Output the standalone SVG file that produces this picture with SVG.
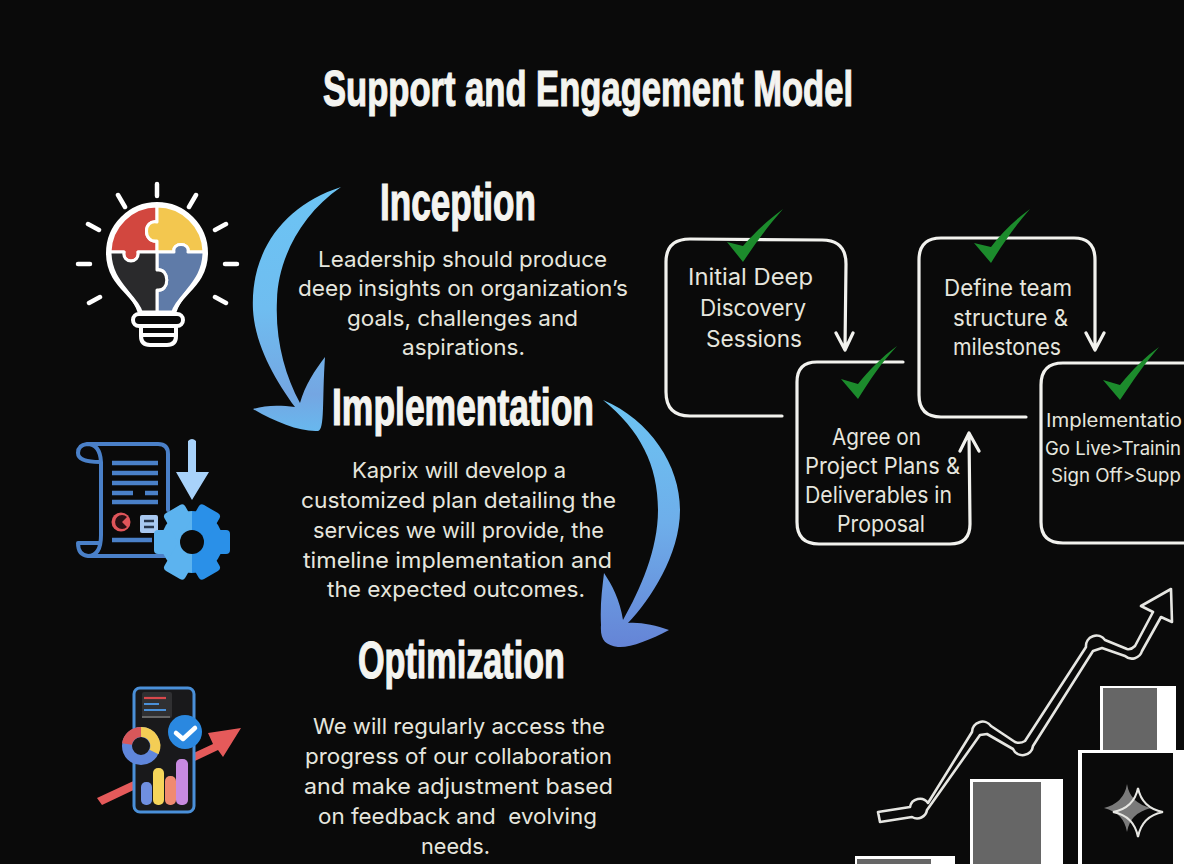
<svg xmlns="http://www.w3.org/2000/svg" width="1184" height="864" viewBox="0 0 1184 864">
<style>
.h{font-family:"Liberation Sans",Arial,sans-serif;font-weight:700;fill:#f4f4f0;stroke:#f4f4f0;stroke-width:1.2;text-anchor:start}
.b{font-family:"Inter","Noto Sans",sans-serif;font-size:22px;fill:#e6e6de;text-anchor:start}
.s{font-family:"Inter","Noto Sans",sans-serif;font-size:22.5px;fill:#e6e6de;text-anchor:start}
.i{font-family:"Inter","Noto Sans",sans-serif;font-size:18.6px;fill:#e6e6de;text-anchor:start}
.box{fill:none;stroke:#f2f2ee;stroke-width:3.2;stroke-linecap:round;stroke-linejoin:round}
.ck{fill:#1c8b2c}
.ray{fill:none;stroke:#fff;stroke-width:4.5;stroke-linecap:round}
.bl{fill:none;stroke:#fff;stroke-width:4;stroke-linejoin:round;stroke-linecap:round}
.pz{stroke:#fff;stroke-width:3;stroke-linejoin:round}
.doc{fill:none;stroke:#4a80c8;stroke-width:4;stroke-linecap:round;stroke-linejoin:round}
.dl{fill:none;stroke:#4a80c8;stroke-width:4.5}
.chart{fill:#0a0a0a;stroke:#e6e6e2;stroke-width:2.6;stroke-linejoin:round}
</style>
<defs>
<linearGradient id="g1" x1="0" y1="0" x2="0" y2="1"><stop offset="0" stop-color="#6cc4f4"/><stop offset=".5" stop-color="#6fbdf0"/><stop offset=".85" stop-color="#74a6e2"/><stop offset="1" stop-color="#68b8ee"/></linearGradient>
<linearGradient id="g2" x1="0" y1="0" x2="0" y2="1"><stop offset="0" stop-color="#6cc4f2"/><stop offset=".5" stop-color="#6eaeea"/><stop offset="1" stop-color="#6584d6"/></linearGradient>
<clipPath id="gl"><rect x="150" y="500" width="42" height="90"/></clipPath>
<clipPath id="gr"><rect x="192" y="500" width="42" height="90"/></clipPath>
<g id="gear"><circle cx="192" cy="542" r="31"/><rect x="154" y="530" width="76" height="24" rx="4"/><rect x="154" y="530" width="76" height="24" rx="4" transform="rotate(60 192 542)"/><rect x="154" y="530" width="76" height="24" rx="4" transform="rotate(120 192 542)"/></g>
</defs>
<rect width="1184" height="864" fill="#0a0a0a"/>

<text class="h" x="323" y="106" font-size="50" textLength="530" lengthAdjust="spacingAndGlyphs">Support and Engagement Model</text>

<g id="node-inception">
<text class="h" x="380" y="220" font-size="51" textLength="156" lengthAdjust="spacingAndGlyphs">Inception</text>
<text class="b" x="318" y="267" textLength="289" lengthAdjust="spacingAndGlyphs">Leadership should produce</text>
<text class="b" x="298" y="296" textLength="330" lengthAdjust="spacingAndGlyphs">deep insights on organization’s</text>
<text class="b" x="347" y="326" textLength="231" lengthAdjust="spacingAndGlyphs">goals, challenges and</text>
<text class="b" x="402" y="355" textLength="123" lengthAdjust="spacingAndGlyphs">aspirations.</text>
</g>
<g id="node-implementation">
<text class="h" x="332" y="425" font-size="51" textLength="262" lengthAdjust="spacingAndGlyphs">Implementation</text>
<text class="b" x="352" y="478" textLength="214" lengthAdjust="spacingAndGlyphs">Kaprix will develop a</text>
<text class="b" x="301" y="508" textLength="315" lengthAdjust="spacingAndGlyphs">customized plan detailing the</text>
<text class="b" x="313" y="538" textLength="291" lengthAdjust="spacingAndGlyphs">services we will provide, the</text>
<text class="b" x="303" y="568" textLength="309" lengthAdjust="spacingAndGlyphs">timeline implementation and</text>
<text class="b" x="327" y="597" textLength="258" lengthAdjust="spacingAndGlyphs">the expected outcomes.</text>
</g>
<g id="node-optimization">
<text class="h" x="358" y="678" font-size="51" textLength="207" lengthAdjust="spacingAndGlyphs">Optimization</text>
<text class="b" x="313" y="734" textLength="292" lengthAdjust="spacingAndGlyphs">We will regularly access the</text>
<text class="b" x="305" y="764" textLength="307" lengthAdjust="spacingAndGlyphs">progress of our collaboration</text>
<text class="b" x="304" y="794" textLength="309" lengthAdjust="spacingAndGlyphs">and make adjustment based</text>
<text class="b" x="318" y="824" textLength="279" lengthAdjust="spacingAndGlyphs" xml:space="preserve">on feedback and  evolving</text>
<text class="b" x="421" y="854" textLength="69" lengthAdjust="spacingAndGlyphs">needs.</text>
</g>

<g id="connectors">
<path fill="url(#g1)" d="M341 187C285 205 250 250 253 310C255 345 275 380 295 407C280 405 265 405 253 409C275 422 300 432 318 431C325 430 322 400 325 357C315 370 305 385 300 403C285 375 275 340 277 300C278 260 300 215 341 187Z"/>
<path fill="url(#g2)" d="M603 400C650 420 680 465 680 510C680 555 650 600 628 623C640 622 655 625 669 630C650 640 630 648 618 647C605 645 600 640 601 625C600 605 602 590 604 573C612 585 620 600 623 620C640 590 658 550 658 510C658 465 640 430 603 400Z"/>
</g>

<g id="icon-bulb">
<path class="ray" d="M157 184V196M118 195L125 207M196 195L189 207M88 224L99 230M226 224L215 230M78 264H90M225 264H237M89 303L100 297M226 303L215 297"/>
<path class="pz" fill="#d2473f" d="M157 206A47 47 0 0 0 110 252H124C122 264 140 264 138 252H157V241C143 243 143 219 157 222Z"/>
<path class="pz" fill="#f3c74f" d="M157 206A47 47 0 0 1 204 252H188C190 242 172 242 174 252H157V241C143 243 143 219 157 222Z"/>
<path class="pz" fill="#5f7ba8" d="M204 252C204 282 180 292 175 312H157V290C170 292 170 268 157 270V252H174C172 242 190 242 188 252Z"/>
<path class="pz" fill="#2a2a2c" d="M110 252C110 282 134 292 139 312H157V290C170 292 170 268 157 270V252H138C140 264 122 264 124 252Z"/>
<path class="bl" d="M141 313C135 293 108 285 108 253A49 49 0 0 1 206 253C206 285 179 293 173 313"/>
<rect class="bl" x="133" y="314" width="50" height="12" rx="6" fill="#0a0a0a"/>
<path class="bl" d="M141 326V336Q141 345 150 345H167Q176 345 176 336V326M142 335H175"/>
</g>

<g id="icon-doc">
<path class="doc" d="M87 444H158Q168 444 168 454V510M87 444Q78 445 78 453Q78 462 100 462M87 444Q100 444 101 462V535Q101 556 88 556Q78 555 78 543M88 556H165M78 543H99"/>
<path class="dl" d="M112 463H158M112 473H158M112 483H158M112 493H133M145 493H158M112 502H158M112 540H152"/>
<circle cx="121" cy="522" r="9.500" fill="#e0555a"/>
<path d="M127 517A7 7 0 1 0 127 527L122 522Z" fill="#2a1014"/>
<rect x="140" y="515" width="18" height="18" rx="2" fill="#a8c8f0"/>
<path d="M144 521H154M144 527H154" stroke="#26344a" stroke-width="2.500"/>
<path fill="#a8d2fa" d="M188 441Q192 437 196 441V472H209L192 500L176 472H188Z"/>
<use href="#gear" fill="#5cb3ef" clip-path="url(#gl)"/>
<use href="#gear" fill="#2a90e8" clip-path="url(#gr)"/>
<circle cx="192" cy="542" r="12" fill="#0a0a0a"/>
</g>

<g id="icon-phone">
<polygon fill="#e55a5a" points="97,798 213,744 208,733 241,728 223,757 218,750 102,805"/>
<rect x="134" y="688" width="60" height="124" rx="6" fill="#19191b" stroke="#4a90d9" stroke-width="3"/>
<rect x="142" y="692" width="30" height="26" rx="2" fill="#303032"/>
<path fill="none" stroke-width="2.2" d="M144 698H166" stroke="#d8484c"/>
<path fill="none" stroke-width="2.2" d="M144 704H159M144 710H166" stroke="#4a90d9"/>
<path fill="none" stroke-width="2" d="M142 717H170" stroke="#666"/>
<circle cx="141" cy="746" r="14" fill="#19191b" stroke="#5f86dc" stroke-width="10"/>
<path d="M141 732A14 14 0 0 1 154 752" fill="none" stroke="#f3cd55" stroke-width="10"/>
<path d="M127 744A14 14 0 0 1 141 732" fill="none" stroke="#d8575a" stroke-width="10"/>
<rect x="141" y="782" width="11" height="23" rx="5" fill="#6f8fe0"/>
<rect x="153" y="768" width="11" height="37" rx="5" fill="#f5d55a"/>
<rect x="165" y="776" width="11" height="29" rx="5" fill="#f08a70"/>
<rect x="176" y="759" width="12" height="46" rx="5" fill="#c88ae0"/>
<circle cx="185" cy="732" r="17" fill="#2a88e0"/>
<path d="M176 733L183 739L195 728" fill="none" stroke="#fff" stroke-width="4.500" stroke-linecap="round" stroke-linejoin="round"/>
</g>

<g id="step-1">
<path class="box" d="M782 416H690Q666 416 666 392V262Q666 239 690 239L822 240Q846 240 846 264L845 349M836 333L845 350L853 333"/>
<text class="s" x="688" y="285" textLength="125" lengthAdjust="spacingAndGlyphs">Initial Deep</text>
<text class="s" x="700" y="316" textLength="106" lengthAdjust="spacingAndGlyphs">Discovery</text>
<text class="s" x="706" y="347" textLength="96" lengthAdjust="spacingAndGlyphs">Sessions</text>
<path class="ck" d="M727 242L743 246C755 232 768 220 783 209C768 226 755 244 743 262Z"/>
</g>
<g id="step-2">
<path class="box" d="M903 362H817Q797 362 797 382V522Q797 544 819 544H950Q970 544 970 524L969 433M960 451L969 433L979 451"/>
<text class="s" x="832" y="445" textLength="89" lengthAdjust="spacingAndGlyphs">Agree on</text>
<text class="s" x="805" y="474" textLength="155" lengthAdjust="spacingAndGlyphs">Project Plans &amp;</text>
<text class="s" x="805" y="503" textLength="147" lengthAdjust="spacingAndGlyphs">Deliverables in</text>
<text class="s" x="837" y="532" textLength="88" lengthAdjust="spacingAndGlyphs">Proposal</text>
<path class="ck" d="M841 379L858 384C869 370 882 357 897 346C882 362 869 381 858 399Z"/>
</g>
<g id="step-3">
<path class="box" d="M1026 417H941Q919 417 919 395V260Q919 238 941 238H1074Q1095 238 1095 260V349M1086 333L1095 350L1104 333"/>
<text class="s" x="944" y="296" textLength="128" lengthAdjust="spacingAndGlyphs">Define team</text>
<text class="s" x="953" y="326" textLength="115" lengthAdjust="spacingAndGlyphs">structure &amp;</text>
<text class="s" x="953" y="355" textLength="108" lengthAdjust="spacingAndGlyphs">milestones</text>
<path class="ck" d="M974 243L991 247C1002 232 1015 220 1030 209C1015 226 1002 245 991 263Z"/>
</g>
<g id="step-4">
<path class="box" d="M1186 363H1063Q1041 363 1041 385V522Q1041 543 1063 543H1186"/>
<text class="i" x="1046" y="427" textLength="136" lengthAdjust="spacingAndGlyphs">Implementatio</text>
<text class="i" x="1045" y="455" textLength="136" lengthAdjust="spacingAndGlyphs">Go Live&gt;Trainin</text>
<text class="i" x="1051" y="482" textLength="130" lengthAdjust="spacingAndGlyphs">Sign Off&gt;Supp</text>
<path class="ck" d="M1103 380L1120 385C1132 370 1145 357 1159 347C1145 363 1132 382 1120 400Z"/>
</g>

<g id="chart">
<rect x="855" y="856" width="100" height="10" fill="#fff"/><rect x="857" y="859" width="74" height="8" fill="#666"/>
<rect x="970" y="779" width="93" height="87" fill="#fff"/><rect x="973" y="782" width="68" height="84" fill="#666"/>
<rect x="1100" y="686" width="76" height="64" fill="#fff"/><rect x="1103" y="688" width="54" height="62" fill="#666"/>
<rect x="1078" y="750" width="108" height="116" fill="#fff"/><rect x="1082" y="753" width="91" height="113" fill="#0a0a0a"/>
<path class="chart" d="M878 812L910 807A10 10 0 0 1 928 803L972 732A10.500 10.500 0 0 1 991 726L1015 742Q1020 744 1025 741L1086 647A10.500 10.500 0 0 1 1105 640L1127 649Q1131 650 1135 646L1153 612L1141 606L1171 589L1172 622L1161 617L1142 651A10.500 10.500 0 0 1 1125 656L1102 648L1093 651L1033 746A10.500 10.500 0 0 1 1013 749L987 734L980 735L927 810A10 10 0 0 1 912 817L880 822Z"/>
<path fill="#7a7a7a" d="M1127 784Q1130 803 1151 808Q1130 813 1127 832Q1124 813 1104 808Q1124 803 1127 784Z"/>
<path fill="none" stroke="#e6e6e2" stroke-width="2" d="M1138 788Q1142 808 1163 812Q1142 816 1138 837Q1134 816 1113 812Q1134 808 1138 788Z"/>
</g>
</svg>
